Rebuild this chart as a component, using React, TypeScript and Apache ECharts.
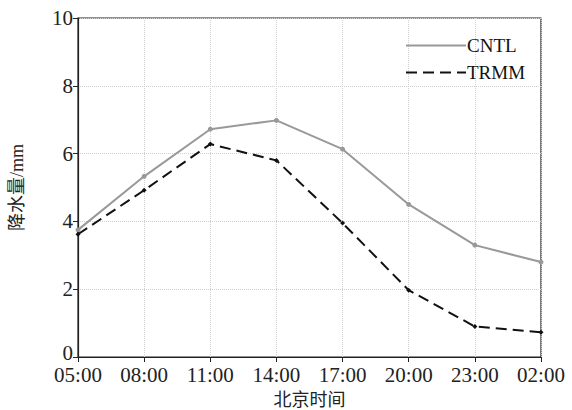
import React, { useEffect, useRef } from "react";
import * as echarts from "echarts";

const categories = ["05:00", "08:00", "11:00", "14:00", "17:00", "20:00", "23:00", "02:00"];
const cntl = [3.75, 5.33, 6.72, 6.98, 6.13, 4.5, 3.3, 2.8];
const trmm = [3.62, 4.92, 6.28, 5.8, 3.95, 1.97, 0.9, 0.73];
const yTicks = { min: 0, max: 10, interval: 2 };

const FONT = "'Liberation Serif', 'Noto Sans CJK SC', serif";

export default function App() {
  const ref = useRef<HTMLDivElement>(null);
  useEffect(() => {
    if (!ref.current) return;
    const chart = echarts.init(ref.current, null, { renderer: "svg" });
    chart.setOption({
      animation: false,
      backgroundColor: "#ffffff",
      grid: {
        left: 78, right: 31, top: 18, bottom: 53,
        outerBoundsMode: "none", containLabel: false,
        show: true, borderColor: "#222", borderWidth: 1.2,
      },
      legend: {
        orient: "vertical",
        left: 400,
        top: 31,
        itemWidth: 60,
        itemHeight: 14,
        itemGap: 8,
        itemStyle: { opacity: 0 },
        textStyle: { fontFamily: FONT, fontSize: 19, color: "#111", padding: [0, 0, 0, -4] },
        data: ["CNTL", "TRMM"],
      },
      xAxis: {
        type: "category",
        data: categories,
        boundaryGap: false,
        name: "北京时间",
        nameLocation: "middle",
        nameGap: 34,
        nameTextStyle: { fontFamily: FONT, fontSize: 18, lineHeight: 18, color: "#222", verticalAlign: "top" },
        axisLine: { lineStyle: { color: "#222", width: 1.2 } },
        axisTick: { show: true, length: 5, lineStyle: { color: "#222" } },
        axisLabel: { fontFamily: FONT, fontSize: 21, lineHeight: 18, color: "#222", margin: 9 },
        splitLine: { show: true, lineStyle: { color: "#d0d0d0", type: "dotted", width: 1 } },
      },
      yAxis: {
        type: "value",
        min: yTicks.min,
        max: yTicks.max,
        interval: yTicks.interval,
        name: "降水量/mm",
        nameLocation: "middle",
        nameGap: 52,
        nameTextStyle: { fontFamily: FONT, fontSize: 18, color: "#222" },
        axisLine: { show: true, lineStyle: { color: "#222", width: 1.2 } },
        axisTick: { show: true, length: 5, lineStyle: { color: "#222" } },
        axisLabel: {
          fontFamily: FONT, fontSize: 21, lineHeight: 16, color: "#222", margin: 5,
          formatter: (v: number) => (v === 0 ? "{z|0}" : String(v)),
          rich: { z: { fontFamily: FONT, fontSize: 21, color: "#222", lineHeight: 16, padding: [0, 0, 8, 0] } },
        },
        splitLine: { show: true, lineStyle: { color: "#d0d0d0", type: "dotted", width: 1 } },
      },
      series: [
        {
          name: "CNTL",
          type: "line",
          data: cntl,
          symbol: "circle",
          symbolSize: 5,
          itemStyle: { color: "#999999" },
          lineStyle: { color: "#999999", width: 2 },
        },
        {
          name: "TRMM",
          type: "line",
          data: trmm,
          symbol: "diamond",
          symbolSize: 5,
          itemStyle: { color: "#111111" },
          lineStyle: { color: "#111111", width: 2, type: [11, 6] },
        },
      ],
    });
    return () => chart.dispose();
  }, []);
  return (
    <div
      ref={ref}
      style={{ position: "fixed", left: 0, top: 0, width: 572, height: 410 }}
    />
  );
}
